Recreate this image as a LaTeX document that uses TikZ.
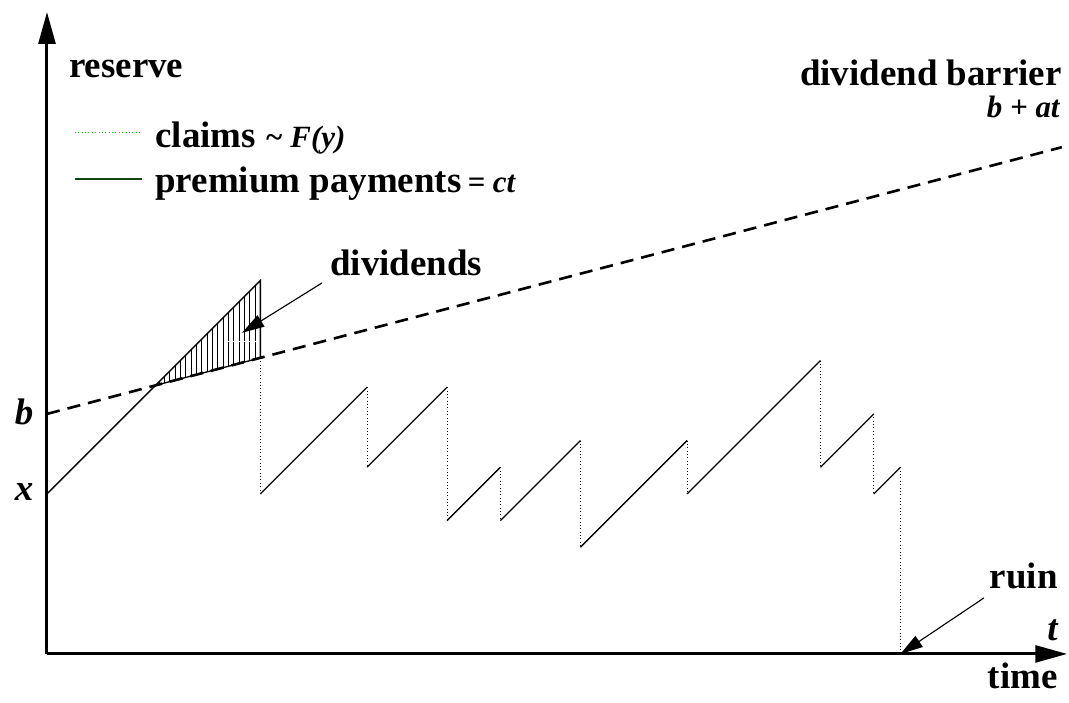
\documentclass[tikz,border=0pt]{standalone}
\usepackage{fontspec}
\setmainfont{Liberation Serif}
\usetikzlibrary{arrows.meta,positioning}
\newcommand\keyfont{\fontsize{16.5}{18}\selectfont\bfseries\itshape}
\definecolor{claimgreen}{RGB}{0,200,0}
\definecolor{premgreen}{RGB}{20,70,20}

\begin{document}
\begin{tikzpicture}[x=0.5cm, y=0.5cm,
  big/.style={font=\fontsize{19.7}{22}\selectfont\bfseries, inner sep=0pt},
  bigit/.style={font=\fontsize{19.7}{22}\selectfont\bfseries\itshape, inner sep=0pt},
  axis/.style={line width=1.6pt, -{Triangle[length=17pt,width=9pt]}},
  prem/.style={line width=0.7pt},
  claim/.style={line width=0.5pt, dash pattern=on 0.5pt off 1.3pt},
  barrier/.style={line width=1.4pt, dash pattern=on 7pt off 4.3pt},
  ptr/.style={line width=0.6pt, -{Triangle[length=12pt,width=7pt]}}]
\useasboundingbox (-1.762,-1.837) rectangle (38.32,24.52);
\coordinate (O) at (0,0);
\coordinate (ytop) at (0,24.07);
\coordinate (xend) at (38.25,0);
\draw[axis] (O) -- (ytop);
\draw[axis] (O) -- (xend);
\node[big, anchor=base west] (res) at (0.82,21.6) {reserve};
\node[big, anchor=base east] (tim) at (37.91,-1.3) {time};
\node[bigit, anchor=base east] (tt) at (37.91,0.5) {t};

\coordinate (b0) at (0,9);
\coordinate (b1) at (38.05,19);
\draw[barrier] (b0) -- (b1);
\node[big, anchor=base east] (barlbl) at (38.06,21.33) {dividend barrier};
\node[font=\keyfont, inner sep=0pt, anchor=base east] (barfun) at (37.98,20.1) {b + at};
\node[bigit] (blbl) at (-0.86,9.07) {b};
\node[bigit] (xlbl) at (-0.86,6.07) {x};

\coordinate (cl0) at (1.05,19.57);
\coordinate (cl1) at (3.56,19.57);
\draw[claim, claimgreen] (cl0) -- (cl1);
\node[big, anchor=base west] (clm) at (4.05,19.0) {claims {\keyfont\textasciitilde\ F(y)}};
\coordinate (pr0) at (1.05,17.81);
\coordinate (pr1) at (3.56,17.81);
\draw[prem, premgreen] (pr0) -- (pr1);
\node[big, anchor=base west] (prm) at (4.05,17.29) {premium payments\,{\keyfont= ct}};

\coordinate (x0) at (0,6);
\coordinate (hit) at (4.07,10.07);
\coordinate (top) at (8,14);
\coordinate (cap) at (8,11.1);
\foreach \u in {4.2,4.4,...,7.9}
  \draw[line width=0.5pt] (\u,{9+0.2628*\u}) -- (\u,{6+\u});
\draw[white, line width=0.6pt, dash pattern=on 2pt off 1pt] (6.04,11.7) -- (7.95,11.7);
\draw[prem] (x0) -- (hit) -- (top) -- (cap);
\draw[prem] (hit) -- (cap);
\draw[claim] (cap) -- (8,6);
\foreach \a/\b/\c/\d in {8/6/12/10, 12/7/15/10, 15/5/17/7, 17/5/20/8, 20/4/24/8, 24/6/29/11, 29/7/31/9, 31/6/32/7}
  \draw[prem] (\a,\b) -- (\c,\d);
\foreach \s/\hi/\lo in {12/10/7, 15/10/5, 17/7/5, 20/8/4, 24/8/6, 29/11/7, 31/9/6}
  \draw[claim] (\s,\hi) -- (\s,\lo);
\coordinate (ruinpt) at (32,0);
\draw[claim] (32,7) -- (ruinpt);

\node[big, anchor=base west] (div) at (10.61,14.2) {dividends};
\coordinate (divtail) at (10.31,13.91);
\coordinate (divtip) at (7.31,12.04);
\draw[ptr] (divtail) -- (divtip);
\node[big, anchor=base east] (ruin) at (37.91,2.47) {ruin};
\coordinate (ruintail) at (35.13,2.10);
\draw[ptr] (ruintail) -- (ruinpt);
\end{tikzpicture}
\end{document}
